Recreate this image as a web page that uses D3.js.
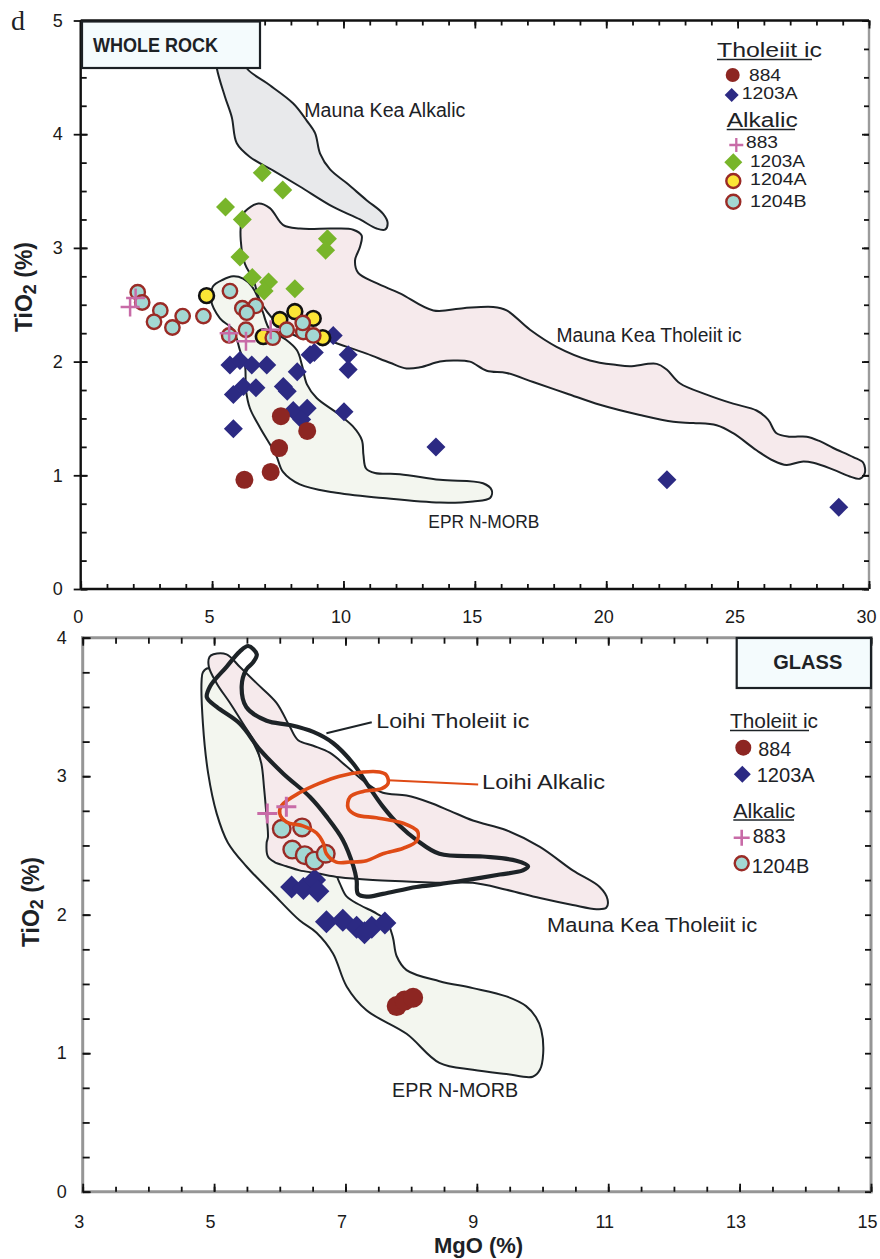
<!DOCTYPE html>
<html>
<head>
<meta charset="utf-8">
<script src="https://cdn.jsdelivr.net/npm/d3@7"></script>
<style>
  body { margin: 0; background: #ffffff; }
  svg { display: block; }
  text { font-family: "Liberation Sans", Arial, Helvetica, sans-serif; fill: #1d2226; }
</style>
</head>
<body>
<svg id="chart" width="880" height="1259"></svg>
<script>
// ---------------- WHOLE ROCK (MgO %, TiO2 %) ----------------
const wr884 = [[7.62,1.52],[8.62,1.39],[7.55,1.24],[7.23,1.03],[6.23,0.96]];
const wr1203A_thol = [[9.61,2.23],[5.68,1.97],[6.06,2.01],[6.51,1.97],[7.08,1.97],[5.81,1.71],[6.19,1.78],[6.67,1.77],
  [7.71,1.78],[7.86,1.74],[8.24,1.91],[8.73,2.06],[8.89,2.08],[10.18,2.06],[10.18,1.93],[8.09,1.57],[8.62,1.59],
  [8.41,1.49],[10.02,1.56],[5.81,1.41],[13.52,1.25],[22.31,0.96],[28.85,0.72]];
const wr883 = [[1.88,2.48],[2.09,2.56],[5.65,2.25],[6.29,2.18],[7.23,2.28]];
const wr1203A_alk = [[6.91,3.66],[7.69,3.51],[5.51,3.36],[6.15,3.25],[9.39,3.08],[9.32,2.98],[6.06,2.92],[6.53,2.74],
  [7.15,2.70],[6.98,2.62],[8.15,2.64]];
const wr1204A = [[4.79,2.58],[8.15,2.44],[8.85,2.38],[7.58,2.37],[6.95,2.22],[9.21,2.21]];
const wr1204B = [[2.17,2.61],[2.34,2.52],[3.03,2.45],[2.79,2.35],[3.49,2.30],[3.88,2.40],[4.67,2.40],[5.68,2.62],
  [6.15,2.47],[6.66,2.49],[6.32,2.43],[6.29,2.28],[5.65,2.23],[7.31,2.21],[7.84,2.28],[8.47,2.26],[8.85,2.23],[8.45,2.34]];

// reference fields, whole rock
const wrMaunaKeaAlkalic = [[5.07,4.83],[5.18,4.58],[5.49,4.33],[5.75,4.15],[5.94,3.92],[6.44,3.80],[7.33,3.68],[8.34,3.54],
  [9.61,3.36],[10.63,3.25],[11.26,3.17],[11.58,3.16],[11.68,3.22],[11.51,3.30],[10.88,3.42],[10.12,3.57],[9.49,3.69],
  [9.11,3.83],[8.92,4.01],[8.60,4.12],[8.09,4.27],[7.08,4.45],[6.32,4.58],[5.87,4.83]];
const wrMaunaKeaThol = [[6.25,3.32],[6.76,3.39],[7.20,3.35],[7.71,3.20],[8.34,3.17],[9.61,3.17],[10.37,3.16],[10.69,3.11],
  [10.63,3.01],[10.44,2.89],[10.56,2.78],[11.26,2.69],[12.15,2.60],[13.42,2.45],[14.56,2.47],[15.70,2.48],[16.21,2.45],
  [17.10,2.28],[18.11,2.13],[19.38,2.01],[20.40,1.97],[20.90,1.96],[21.92,1.98],[22.30,1.93],[22.80,1.81],[23.82,1.71],
  [24.83,1.63],[25.72,1.57],[26.16,1.49],[26.48,1.37],[26.99,1.34],[27.63,1.34],[28.13,1.30],[28.64,1.24],[29.40,1.16],
  [29.78,1.11],[29.84,1.02],[29.65,0.97],[29.27,0.99],[28.64,1.05],[27.88,1.11],[27.44,1.12],[26.86,1.09],[26.35,1.13],
  [25.72,1.22],[24.83,1.37],[24.20,1.44],[23.31,1.46],[22.55,1.47],[21.28,1.53],[19.76,1.62],[18.49,1.72],[17.22,1.82],
  [16.21,1.90],[15.45,1.92],[14.81,2.00],[14.18,2.01],[13.67,2.00],[12.91,1.95],[12.40,1.94],[11.77,1.99],[10.88,2.07],
  [9.87,2.15],[9.36,2.19],[8.34,2.21],[7.43,2.35],[6.82,2.54],[6.57,2.72],[6.25,2.86],[6.09,3.07],[6.13,3.26]];
const wrEPR = [[5.03,2.66],[4.96,2.54],[5.30,2.38],[5.80,2.28],[6.06,2.10],[6.25,1.97],[6.29,1.75],[6.44,1.59],[6.82,1.42],
  [7.43,1.18],[7.70,1.03],[8.34,0.92],[9.60,0.85],[11.50,0.80],[13.67,0.76],[14.93,0.77],[15.58,0.80],[15.64,0.87],
  [15.31,0.93],[13.67,0.96],[12.15,1.01],[11.20,1.02],[10.86,1.06],[10.76,1.18],[10.70,1.31],[10.36,1.43],[9.74,1.55],
  [8.98,1.68],[8.61,1.80],[8.42,1.97],[8.23,2.10],[7.77,2.20],[7.20,2.28],[6.94,2.43],[6.75,2.56],[6.52,2.66],[6.18,2.73],
  [5.80,2.75],[5.41,2.72]];

// ---------------- GLASS (MgO %, TiO2 %) ----------------
const gl884 = [[7.78,1.34],[7.90,1.38],[8.03,1.40]];
const gl1203A = [[6.18,2.20],[6.36,2.19],[6.53,2.25],[6.58,2.17],[6.71,1.95],[6.96,1.96],[7.17,1.91],[7.29,1.87],[7.40,1.91],[7.60,1.94]];
const gl883 = [[5.81,2.73],[6.10,2.78]];
const gl1204B = [[6.03,2.62],[6.34,2.63],[6.19,2.47],[6.38,2.43],[6.53,2.39],[6.70,2.44]];

// reference fields, glass
const glMaunaKeaThol = [[4.92,3.79],[4.93,3.86],[4.99,3.88],[5.19,3.88],[5.39,3.79],[5.65,3.67],[5.95,3.53],[6.15,3.36],
  [6.28,3.26],[6.51,3.22],[6.76,3.17],[7.02,3.07],[7.32,2.95],[7.57,2.88],[7.93,2.86],[8.28,2.81],[8.59,2.75],[8.94,2.68],
  [9.45,2.61],[9.96,2.49],[10.46,2.32],[10.87,2.20],[10.99,2.11],[10.97,2.05],[10.82,2.04],[10.46,2.07],[9.96,2.12],
  [9.45,2.18],[8.94,2.23],[8.43,2.23],[7.93,2.24],[7.42,2.25],[6.91,2.27],[6.56,2.30],[6.30,2.32],[6.10,2.35],[5.92,2.38],
  [5.82,2.42],[5.80,2.52],[5.82,2.56],[5.79,2.76],[5.76,2.92],[5.72,3.09],[5.62,3.24],[5.44,3.38],[5.24,3.53],[5.04,3.67]];
const glEPR = [[4.83,3.75],[4.81,3.69],[4.83,3.38],[4.91,3.02],[5.04,2.73],[5.21,2.52],[5.49,2.35],[5.90,2.15],[6.30,1.96],
  [6.56,1.87],[6.81,1.72],[7.02,1.48],[7.32,1.31],[7.93,1.14],[8.43,0.93],[8.94,0.88],[9.45,0.85],[9.85,0.83],[9.96,0.88],
  [10.01,1.00],[9.98,1.17],[9.90,1.26],[9.75,1.34],[9.45,1.41],[8.94,1.47],[8.43,1.52],[7.93,1.60],[7.78,1.70],[7.72,1.84],
  [7.62,1.96],[7.47,2.01],[7.22,2.07],[7.02,2.13],[6.91,2.23],[6.76,2.39],[6.30,2.61],[5.92,2.90],[5.62,3.22],[5.32,3.51],
  [5.01,3.73],[4.91,3.78]];
const glLoihiThol = [[5.52,3.94],[5.65,3.88],[5.59,3.82],[5.49,3.77],[5.42,3.65],[5.49,3.50],[5.80,3.40],[6.15,3.37],
  [6.51,3.32],[6.81,3.24],[7.12,3.09],[7.32,2.95],[7.57,2.78],[7.83,2.64],[8.08,2.54],[8.43,2.44],[9.09,2.42],[9.60,2.39],
  [9.78,2.35],[9.70,2.32],[9.35,2.29],[8.84,2.25],[8.43,2.22],[8.08,2.20],[7.57,2.15],[7.32,2.13],[7.19,2.15],[7.17,2.25],
  [7.12,2.35],[6.96,2.54],[6.71,2.71],[6.46,2.85],[6.05,3.02],[5.70,3.19],[5.39,3.38],[5.04,3.50],[4.89,3.57],[4.94,3.65],
  [5.19,3.79],[5.39,3.90]];
const glLoihiAlk = [[7.62,3.01],[7.65,2.95],[7.55,2.91],[7.27,2.89],[7.07,2.85],[7.04,2.77],[7.17,2.72],[7.47,2.70],
  [7.88,2.66],[8.10,2.60],[8.08,2.53],[7.88,2.48],[7.57,2.44],[7.32,2.39],[7.07,2.38],[6.86,2.38],[6.71,2.44],[6.66,2.52],
  [6.56,2.59],[6.36,2.64],[6.10,2.67],[6.00,2.73],[6.03,2.79],[6.30,2.88],[6.61,2.95],[6.91,3.00],[7.27,3.03],[7.52,3.03]];

// axis ticks and labels
const wrXTickLabels = [0, 5, 10, 15, 20, 25, 30];
const wrYTickLabels = [0, 1, 2, 3, 4, 5];
const glXTickLabels = [3, 5, 7, 9, 11, 13, 15];
const glYTickLabels = [0, 1, 2, 3, 4];

// ---------------- drawing ----------------
const svg = d3.select("#chart");
const C = {
  red: "#8d2622", navy: "#2c2a83", green: "#78b52a", yellow: "#fbe536",
  cyan: "#a3d8d3", cyanRim: "#9a2b26", pink: "#c86ba7", orange: "#df4b16",
  ink: "#1d2327", pinkFill: "#f6eaec", greyFill: "#e8e9eb", eprFill: "#f3f6ef",
  boxFill: "#f4fbfd", frameGrey: "#969696"
};

const xWR = d3.scaleLinear().domain([0, 30]).range([80.7, 869]);
const yWR = d3.scaleLinear().domain([0, 5]).range([589, 20.5]);
const xGL = d3.scaleLinear().domain([3, 15]).range([82.7, 871]);
const yGL = d3.scaleLinear().domain([0, 4]).range([1191.7, 637.7]);

const diamond = h => `M0,${-h}L${h},0L0,${h}L${-h},0Z`;
const cross = h => `M${-h},0H${h}M0,${-h}V${h}`;

function field(g, pts, x, y, fill, stroke, sw) {
  const line = d3.line().curve(d3.curveCatmullRomClosed.alpha(0.5)).x(d => x(d[0])).y(d => y(d[1]));
  g.append("path").attr("d", line(pts))
    .attr("fill", fill || "none").attr("stroke", stroke).attr("stroke-width", sw)
    .attr("stroke-linejoin", "round");
}

function circles(g, data, x, y, r, fill, stroke, sw) {
  g.append("g").selectAll("circle").data(data).join("circle")
    .attr("cx", d => x(d[0])).attr("cy", d => y(d[1])).attr("r", r)
    .attr("fill", fill).attr("stroke", stroke || "none").attr("stroke-width", sw || 0);
}
function diamonds(g, data, x, y, h, fill) {
  g.append("g").selectAll("path").data(data).join("path")
    .attr("transform", d => `translate(${x(d[0])},${y(d[1])})`)
    .attr("d", diamond(h)).attr("fill", fill);
}
function crosses(g, data, x, y, h, color, sw) {
  g.append("g").selectAll("path").data(data).join("path")
    .attr("transform", d => `translate(${x(d[0])},${y(d[1])})`)
    .attr("d", cross(h)).attr("fill", "none").attr("stroke", color).attr("stroke-width", sw);
}

function tickAxis(g, axisFn, scale, values, size, tx, ty) {
  const sel = g.append("g").attr("transform", `translate(${tx},${ty})`)
    .call(axisFn(scale).tickValues(values).tickSize(size).tickFormat(""));
  sel.select(".domain").remove();
  sel.selectAll("line").attr("stroke", "#111").attr("stroke-width", 1.8);
}
function labelAxis(g, axisFn, scale, values, pad, tx, ty, dx) {
  const sel = g.append("g").attr("transform", `translate(${tx},${ty})`)
    .call(axisFn(scale).tickValues(values).tickSize(0).tickPadding(pad).tickFormat(d3.format("d")));
  sel.select(".domain").remove();
  sel.attr("font-size", null).attr("font-family", null);
  sel.selectAll("text").attr("font-size", 18).style("fill", "#1a1a1a").attr("dx", dx);
}

function text(g, str, x, y, size, opts = {}) {
  const t = g.append("text").attr("x", x).attr("y", y).attr("font-size", size).text(str);
  if (opts.bold) t.attr("font-weight", "bold");
  if (opts.len) t.attr("textLength", opts.len).attr("lengthAdjust", "spacingAndGlyphs");
  if (opts.anchor) t.attr("text-anchor", opts.anchor);
  if (opts.family) t.style("font-family", opts.family);
  return t;
}
function underline(g, x1, x2, y) {
  g.append("line").attr("x1", x1).attr("x2", x2).attr("y1", y).attr("y2", y)
    .attr("stroke", C.ink).attr("stroke-width", 1.4);
}

// ====== WHOLE ROCK panel ======
const gTop = svg.append("g");
const [wx0, wx1] = xWR.range(), [wy0, wy1] = yWR.range();

field(gTop, wrMaunaKeaAlkalic, xWR, yWR, C.greyFill, C.ink, 2);
field(gTop, wrMaunaKeaThol, xWR, yWR, C.pinkFill, C.ink, 2);
field(gTop, wrEPR, xWR, yWR, C.eprFill, C.ink, 2);

text(gTop, "Mauna Kea Alkalic", xWR(8.51), yWR(4.15), 19.5, { len: 161 });
text(gTop, "Mauna Kea Tholeiit ic", xWR(18.11), yWR(2.17), 19.5, { len: 185 });
text(gTop, "EPR N-MORB", xWR(13.23), yWR(0.534), 17.5, { len: 111 });

diamonds(gTop, wr1203A_thol, xWR, yWR, 9.5, C.navy);
circles(gTop, wr884, xWR, yWR, 9, C.red);
diamonds(gTop, wr1203A_alk, xWR, yWR, 9.5, C.green);
circles(gTop, wr1204A, xWR, yWR, 7.4, C.yellow, "#111", 2.6);
circles(gTop, wr1204B, xWR, yWR, 7.2, C.cyan, C.cyanRim, 2.4);
crosses(gTop, wr883, xWR, yWR, 9.5, C.pink, 2.5);

// frame
gTop.append("line").attr("x1", wx0).attr("x2", wx1).attr("y1", wy1).attr("y2", wy1).attr("stroke", "#111").attr("stroke-width", 2.4);
gTop.append("line").attr("x1", wx0).attr("x2", wx1).attr("y1", wy0).attr("y2", wy0).attr("stroke", "#111").attr("stroke-width", 2.6);
gTop.append("line").attr("x1", wx0).attr("x2", wx0).attr("y1", wy1).attr("y2", wy0).attr("stroke", "#111").attr("stroke-width", 2.4);
gTop.append("line").attr("x1", wx1).attr("x2", wx1).attr("y1", wy1).attr("y2", wy0).attr("stroke", "#9b9b9b").attr("stroke-width", 2.4);

const wrMinorX = d3.range(0, 31, 1), wrMajorX = d3.range(0, 31, 5);
const wrMinorY = d3.range(0, 5.01, 0.25), wrMajorY = d3.range(0, 6, 1);
tickAxis(gTop, d3.axisBottom, xWR, wrMinorX, -5, 0, wy0);
tickAxis(gTop, d3.axisBottom, xWR, wrMajorX, -8, 0, wy0);
tickAxis(gTop, d3.axisTop, xWR, wrMinorX, -5, 0, wy1);
tickAxis(gTop, d3.axisTop, xWR, wrMajorX, -8, 0, wy1);
tickAxis(gTop, d3.axisLeft, yWR, wrMinorY, -6, wx0, 0);
tickAxis(gTop, d3.axisLeft, yWR, wrMajorY, 7, wx0, 0);
tickAxis(gTop, d3.axisLeft, yWR, wrMajorY, -7, wx0, 0);
tickAxis(gTop, d3.axisRight, yWR, wrMinorY, -5, wx1, 0);
tickAxis(gTop, d3.axisRight, yWR, wrMajorY, -7, wx1, 0);
labelAxis(gTop, d3.axisBottom, xWR, wrXTickLabels, 21, 0, wy0, -3);
labelAxis(gTop, d3.axisLeft, yWR, wrYTickLabels, 18, wx0, 0, 0);

// title box
gTop.append("rect").attr("x", 82).attr("y", 21.5).attr("width", 178).attr("height", 46.5)
  .attr("fill", C.boxFill).attr("stroke", "#1b2024").attr("stroke-width", 2.2);
text(gTop, "WHOLE ROCK", 93, 51.7, 20, { bold: true, len: 125 });

// legend
text(gTop, "Tholeiit ic", 717, 57, 20, { len: 105 });
underline(gTop, 717, 812, 59.5);
gTop.append("circle").attr("cx", 732.7).attr("cy", 75).attr("r", 7).attr("fill", C.red);
text(gTop, "884", 749, 80.5, 17, { len: 32 });
gTop.append("path").attr("transform", "translate(731.7,95)").attr("d", diamond(7)).attr("fill", C.navy);
text(gTop, "1203A", 741.7, 99, 17, { len: 56 });
text(gTop, "Alkalic", 726.7, 127, 20, { len: 71 });
underline(gTop, 726.7, 795, 129.5);
gTop.append("path").attr("transform", "translate(736.3,145)").attr("d", cross(7)).attr("stroke", C.pink).attr("stroke-width", 2.3).attr("fill", "none");
text(gTop, "883", 746, 148, 17, { len: 32 });
gTop.append("path").attr("transform", "translate(733.3,162.3)").attr("d", diamond(9)).attr("fill", C.green);
text(gTop, "1203A", 750, 167, 17, { len: 55 });
gTop.append("circle").attr("cx", 733.3).attr("cy", 181).attr("r", 7).attr("fill", C.yellow).attr("stroke", C.cyanRim).attr("stroke-width", 2.4);
text(gTop, "1204A", 750, 185, 17, { len: 56.7 });
gTop.append("circle").attr("cx", 733.3).attr("cy", 201.7).attr("r", 7).attr("fill", C.cyan).attr("stroke", C.cyanRim).attr("stroke-width", 2.4);
text(gTop, "1204B", 750, 206.5, 17, { len: 56.7 });

// axis title + panel letter
const yTitleTop = gTop.append("text").attr("transform", "translate(32,287) rotate(-90)")
  .attr("text-anchor", "middle").attr("font-weight", "bold").attr("font-size", 23);
yTitleTop.append("tspan").text("TiO");
yTitleTop.append("tspan").attr("font-size", 18).attr("dy", 4).text("2");
yTitleTop.append("tspan").attr("dy", -4).text(" (%)");
text(gTop, "d", 11, 30, 28, { family: "'Liberation Serif', 'Times New Roman', serif" });

// ====== GLASS panel ======
const gBot = svg.append("g");
const [gx0, gx1] = xGL.range(), [gy0, gy1] = yGL.range();

field(gBot, glEPR, xGL, yGL, C.eprFill, C.ink, 2);
field(gBot, glMaunaKeaThol, xGL, yGL, C.pinkFill, C.ink, 2);

diamonds(gBot, gl1203A, xGL, yGL, 11.5, C.navy);
circles(gBot, gl884, xGL, yGL, 10, C.red);
circles(gBot, gl1204B, xGL, yGL, 8.8, C.cyan, C.cyanRim, 2.4);

field(gBot, glLoihiThol, xGL, yGL, null, C.ink, 4.2);
field(gBot, glLoihiAlk, xGL, yGL, null, C.orange, 3.6);
crosses(gBot, gl883, xGL, yGL, 10, C.pink, 3);

// field labels with leaders
gBot.append("line").attr("x1", xGL(6.71)).attr("y1", yGL(3.31)).attr("x2", xGL(7.40)).attr("y2", yGL(3.39))
  .attr("stroke", C.ink).attr("stroke-width", 2);
gBot.append("line").attr("x1", xGL(7.65)).attr("y1", yGL(2.97)).attr("x2", xGL(9.02)).attr("y2", yGL(2.94))
  .attr("stroke", C.orange).attr("stroke-width", 2);
text(gBot, "Loihi Tholeiit ic", xGL(7.47), yGL(3.346), 20.5, { len: 153 });
text(gBot, "Loihi Alkalic", xGL(9.08), yGL(2.905), 20.5, { len: 123 });
text(gBot, "Mauna Kea Tholeiit ic", xGL(10.07), yGL(1.873), 20.5, { len: 210 });
text(gBot, "EPR N-MORB", xGL(7.71), yGL(0.682), 19.5, { len: 126 });

// frame
[[gx0, gy1, gx1, gy1], [gx0, gy0, gx1, gy0], [gx0, gy1, gx0, gy0], [gx1, gy1, gx1, gy0]].forEach(([a, b, c, d]) =>
  gBot.append("line").attr("x1", a).attr("y1", b).attr("x2", c).attr("y2", d)
    .attr("stroke", C.frameGrey).attr("stroke-width", 3).attr("stroke-linecap", "square"));

const glMinorX = d3.range(3, 15.01, 0.5), glMajorX = d3.range(3, 16, 2);
const glMinorY = d3.range(0, 4.01, 0.25), glMajorY = d3.range(0, 5, 1);
tickAxis(gBot, d3.axisBottom, xGL, glMinorX, -5, 0, gy0);
tickAxis(gBot, d3.axisBottom, xGL, glMajorX, -8, 0, gy0);
tickAxis(gBot, d3.axisTop, xGL, glMinorX, -6, 0, gy1);
tickAxis(gBot, d3.axisTop, xGL, glMajorX, -8, 0, gy1);
tickAxis(gBot, d3.axisLeft, yGL, glMinorY, -7, gx0, 0);
tickAxis(gBot, d3.axisLeft, yGL, glMajorY, -8, gx0, 0);
tickAxis(gBot, d3.axisRight, yGL, glMinorY, -6, gx1, 0);
labelAxis(gBot, d3.axisBottom, xGL, glXTickLabels, 23.5, 0, gy0, -4);
labelAxis(gBot, d3.axisLeft, yGL, glYTickLabels, 16, gx0, 0, 0);

// title box
gBot.append("rect").attr("x", 736.7).attr("y", 638).attr("width", gx1 - 736.7).attr("height", 50)
  .attr("fill", C.boxFill).attr("stroke", "#1b2024").attr("stroke-width", 2.2);
text(gBot, "GLASS", 773.3, 669.3, 20, { bold: true, len: 69 });

// legend
text(gBot, "Tholeiit ic", 730, 728, 20.5, { len: 88 });
underline(gBot, 730, 809, 730.5);
gBot.append("circle").attr("cx", 743.3).attr("cy", 747.7).attr("r", 8).attr("fill", C.red);
text(gBot, "884", 758.3, 755.5, 20, { len: 33 });
gBot.append("path").attr("transform", "translate(742.3,774.3)").attr("d", diamond(8.5)).attr("fill", C.navy);
text(gBot, "1203A", 756.7, 782, 20, { len: 58 });
text(gBot, "Alkalic", 733.3, 817.5, 20.5, { len: 62 });
underline(gBot, 733.3, 794, 820);
gBot.append("path").attr("transform", "translate(741.7,837.7)").attr("d", cross(8)).attr("stroke", C.pink).attr("stroke-width", 2.6).attr("fill", "none");
text(gBot, "883", 752.7, 842.5, 20, { len: 33 });
gBot.append("circle").attr("cx", 741.7).attr("cy", 863.3).attr("r", 7).attr("fill", C.cyan).attr("stroke", C.cyanRim).attr("stroke-width", 2.4);
text(gBot, "1204B", 751.7, 873, 20, { len: 57.6 });

// axis titles
const yTitleBot = gBot.append("text").attr("transform", "translate(38.5,902) rotate(-90)")
  .attr("text-anchor", "middle").attr("font-weight", "bold").attr("font-size", 23);
yTitleBot.append("tspan").text("TiO");
yTitleBot.append("tspan").attr("font-size", 18).attr("dy", 4).text("2");
yTitleBot.append("tspan").attr("dy", -4).text(" (%)");
text(gBot, "MgO (%)", 478.5, 1253, 22, { bold: true, anchor: "middle" });
</script>
</body>
</html>
